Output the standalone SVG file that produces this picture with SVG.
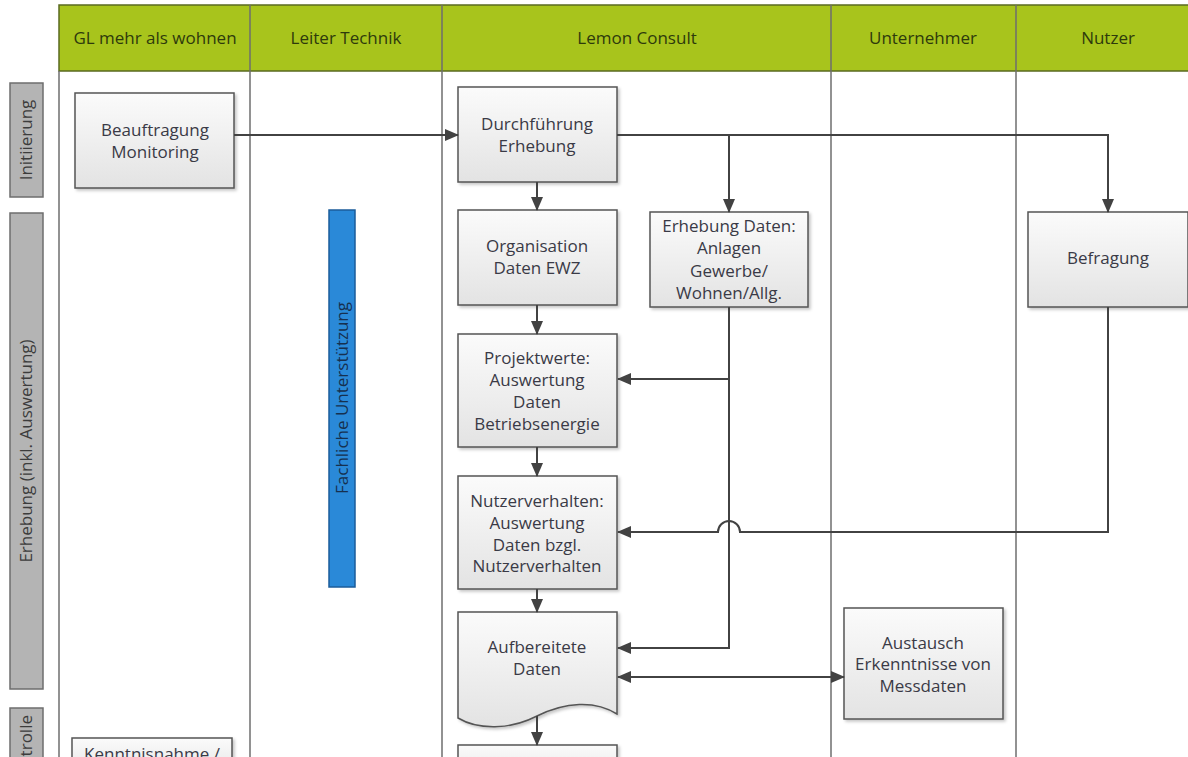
<svg xmlns="http://www.w3.org/2000/svg" width="1188" height="757" viewBox="0 0 1188 757">
<style>
.hdr{fill:#a8c41c;stroke:#5a6a20;stroke-width:1.5}
.ht{font-family:"Open Sans","Liberation Sans",sans-serif;font-size:17px;fill:#2e3a0c;text-anchor:middle}
.lane{stroke:#6e6e6e;stroke-width:1.5;fill:none}
.phase{fill:#b4b4b4;stroke:#6e6e6e;stroke-width:1.5}
.pt{font-family:"Open Sans","Liberation Sans",sans-serif;font-size:17px;fill:#3c3c3c;text-anchor:middle}
.box{fill:url(#g);stroke:#555;stroke-width:1.5;filter:url(#sh)}
.bt{font-family:"Open Sans","Liberation Sans",sans-serif;font-size:17px;fill:#3a3a46;text-anchor:middle}
.con{stroke:#424242;stroke-width:2;fill:none}
</style>
<defs>
<linearGradient id="g" x1="0" y1="0" x2="0" y2="1">
<stop offset="0" stop-color="#fbfbfb"/>
<stop offset="1" stop-color="#e3e3e3"/>
</linearGradient>
<filter id="sh" x="-10%" y="-10%" width="130%" height="130%">
<feDropShadow dx="2" dy="2" stdDeviation="1.5" flood-color="#000" flood-opacity="0.22"/>
</filter>
<marker id="ah" markerWidth="14" markerHeight="12" refX="13" refY="6" orient="auto-start-reverse" markerUnits="userSpaceOnUse">
<path d="M0,0 L14,6 L0,12 Z" fill="#424242"/>
</marker>
</defs>
<rect width="1188" height="757" fill="#fff"/>
<g id="header">
<rect class="hdr" x="59" y="5" width="1140" height="66"/>
<line class="lane" x1="250" y1="5" x2="250" y2="71"/>
<line class="lane" x1="442" y1="5" x2="442" y2="71"/>
<line class="lane" x1="831" y1="5" x2="831" y2="71"/>
<line class="lane" x1="1016" y1="5" x2="1016" y2="71"/>
<text class="ht" x="155" y="44">GL mehr als wohnen</text>
<text class="ht" x="346" y="44">Leiter Technik</text>
<text class="ht" x="637" y="44">Lemon Consult</text>
<text class="ht" x="923" y="44">Unternehmer</text>
<text class="ht" x="1108" y="44">Nutzer</text>
</g>
<g id="lanes">
<line class="lane" x1="59" y1="71" x2="59" y2="757"/>
<line class="lane" x1="250" y1="71" x2="250" y2="757"/>
<line class="lane" x1="442" y1="71" x2="442" y2="757"/>
<line class="lane" x1="831" y1="71" x2="831" y2="757"/>
<line class="lane" x1="1016" y1="71" x2="1016" y2="757"/>
</g>
<g id="phase-initiierung">
<rect class="phase" x="10" y="83" width="33" height="114"/>
<text class="pt" transform="translate(32,140) rotate(-90)">Initiierung</text>
</g>
<g id="phase-erhebung">
<rect class="phase" x="10" y="213" width="33" height="476"/>
<text class="pt" transform="translate(32,451) rotate(-90)">Erhebung (inkl. Auswertung)</text>
</g>
<g id="phase-kontrolle">
<rect class="phase" x="10" y="708" width="33" height="60"/>
<text class="pt" transform="translate(32,715) rotate(-90)" text-anchor="end" style="text-anchor:end">trolle</text>
</g>
<g id="fachliche">
<rect x="329" y="210" width="26" height="377" fill="#2a89d8" stroke="#1b5c9a" stroke-width="1.5"/>
<text class="pt" style="fill:#16304f" transform="translate(348,398) rotate(-90)">Fachliche Unterstützung</text>
</g>
<g id="beauftragung">
<rect class="box" x="75" y="93" width="159" height="95"/>
<text class="bt" x="155" y="136">Beauftragung</text>
<text class="bt" x="155" y="158">Monitoring</text>
</g>
<g id="durchfuehrung">
<rect class="box" x="458" y="87" width="159" height="95"/>
<text class="bt" x="537" y="130">Durchführung</text>
<text class="bt" x="537" y="152">Erhebung</text>
</g>
<g id="organisation">
<rect class="box" x="458" y="210" width="159" height="95"/>
<text class="bt" x="537" y="252">Organisation</text>
<text class="bt" x="537" y="274">Daten EWZ</text>
</g>
<g id="erhebung-daten">
<rect class="box" x="650" y="212" width="158" height="95"/>
<text class="bt" x="729" y="232">Erhebung Daten:</text>
<text class="bt" x="729" y="254">Anlagen</text>
<text class="bt" x="729" y="277">Gewerbe/</text>
<text class="bt" x="729" y="299">Wohnen/Allg.</text>
</g>
<g id="befragung">
<rect class="box" x="1028" y="212" width="160" height="95"/>
<text class="bt" x="1108" y="264">Befragung</text>
</g>
<g id="projektwerte">
<rect class="box" x="458" y="334" width="159" height="113"/>
<text class="bt" x="537" y="364">Projektwerte:</text>
<text class="bt" x="537" y="386">Auswertung</text>
<text class="bt" x="537" y="408">Daten</text>
<text class="bt" x="537" y="430">Betriebsenergie</text>
</g>
<g id="nutzerverhalten">
<rect class="box" x="458" y="476" width="159" height="113"/>
<text class="bt" x="537" y="507">Nutzerverhalten:</text>
<text class="bt" x="537" y="529">Auswertung</text>
<text class="bt" x="537" y="551">Daten bzgl.</text>
<text class="bt" x="537" y="572">Nutzerverhalten</text>
</g>
<g id="aufbereitete-daten">
<path class="box" d="M458,612 H617 V714 C595,700 565,702 537,716 C510,730 478,730 458,718 Z"/>
<text class="bt" x="537" y="653">Aufbereitete</text>
<text class="bt" x="537" y="675">Daten</text>
</g>
<g id="austausch">
<rect class="box" x="844" y="608" width="159" height="111"/>
<text class="bt" x="923" y="649">Austausch</text>
<text class="bt" x="923" y="670">Erkenntnisse von</text>
<text class="bt" x="923" y="692">Messdaten</text>
</g>
<g id="kenntnisnahme">
<rect class="box" x="72" y="738" width="160" height="40"/>
<text class="bt" x="152" y="760">Kenntnisnahme /</text>
</g>
<g id="next-step">
<rect class="box" x="458" y="745" width="159" height="40"/>
</g>
<g id="connectors">
<path class="con" d="M234,135 H458" marker-end="url(#ah)"/>
<path class="con" d="M617,135 H1108 V212" marker-end="url(#ah)"/>
<path class="con" d="M729,135 V212" marker-end="url(#ah)"/>
<path class="con" d="M537,182 V210" marker-end="url(#ah)"/>
<path class="con" d="M537,305 V334" marker-end="url(#ah)"/>
<path class="con" d="M537,447 V476" marker-end="url(#ah)"/>
<path class="con" d="M537,589 V612" marker-end="url(#ah)"/>
<path class="con" d="M537,716 V745" marker-end="url(#ah)"/>
<path class="con" d="M729,307 V648 H618" marker-end="url(#ah)"/>
<path class="con" d="M729,379 H618" marker-end="url(#ah)"/>
<path class="con" d="M1108,307 V532 H740 A11,11 0 0 0 718,532 H618" marker-end="url(#ah)"/>
<path class="con" d="M618,677 H844" marker-start="url(#ah)" marker-end="url(#ah)"/>
</g>
</svg>
